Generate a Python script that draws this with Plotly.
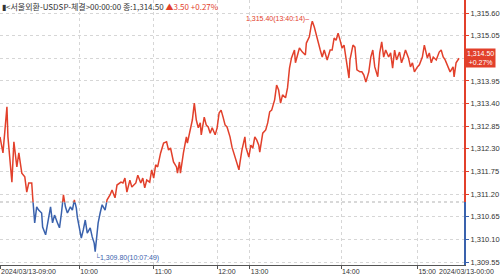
import plotly.graph_objects as go

# tick index (position along the tick-count axis) and traded price
tick_index = [0, 2, 3, 5, 7, 8, 10, 12, 14, 17, 19, 22, 25, 27, 29, 32, 33, 34, 35, 37, 39, 42, 43, 46, 48, 51,
              53, 55, 58, 60, 62, 64, 66, 68, 71, 73, 75, 77, 78, 82, 84, 86, 88, 91, 93, 95, 96, 97, 99, 101,
              103, 106, 108, 111, 113, 116, 118, 122, 124, 126, 128, 131, 133, 137, 139, 142, 144, 146, 148, 151,
              153, 155, 157, 159, 162, 165, 168, 170, 172, 175, 178, 179, 181, 182, 185, 188, 189, 192, 194, 196,
              198, 200, 202, 203, 206, 208, 210, 212, 214, 217, 219, 221, 223, 225, 227, 229, 232, 234, 237, 239,
              241, 242, 244, 247, 248, 251, 253, 255, 257, 259, 261, 262, 265, 268, 270, 272, 274, 277, 279, 281,
              283, 285, 288, 290, 292, 294, 297, 298, 301, 302, 305, 308, 309, 312, 314, 315, 317, 320, 323, 325,
              327, 330, 333, 335, 337, 339, 341, 343, 345, 347, 349, 352, 353, 356, 358, 360, 363, 365, 367, 369,
              372, 374, 376, 378, 381, 383, 385, 387, 389, 392, 394, 396, 398, 400, 403, 405, 407, 409, 412, 414,
              416, 418, 421, 423, 426, 428, 431, 433, 435, 437, 440, 443, 445, 447, 449, 452, 454, 457, 458, 460,
              463]
price = [1312.59, 1312.34, 1312.20, 1312.76, 1313.32, 1312.59, 1312.10, 1311.49, 1312.47, 1311.86, 1312.20,
         1311.71, 1311.62, 1311.25, 1311.47, 1311.47, 1311.11, 1310.81, 1310.50, 1310.89, 1310.81, 1310.74,
         1310.40, 1310.21, 1310.50, 1310.89, 1310.50, 1310.69, 1310.50, 1310.38, 1310.74, 1311.18, 1310.89,
         1310.74, 1310.89, 1310.81, 1311.06, 1310.86, 1310.64, 1310.13, 1310.33, 1310.57, 1310.25, 1310.38,
         1310.16, 1310.01, 1309.80, 1310.08, 1310.50, 1310.74, 1310.94, 1310.81, 1311.06, 1311.18, 1311.30,
         1311.11, 1311.42, 1311.49, 1311.47, 1311.59, 1311.25, 1311.54, 1311.37, 1311.47, 1311.66, 1311.47,
         1311.59, 1311.35, 1311.54, 1311.49, 1311.79, 1311.59, 1311.91, 1311.86, 1312.20, 1312.44, 1312.47,
         1312.27, 1312.32, 1311.98, 1311.86, 1311.71, 1311.98, 1311.71, 1312.20, 1312.59, 1312.44, 1312.76,
         1313.00, 1313.41, 1313.00, 1312.81, 1312.93, 1312.64, 1313.07, 1312.88, 1312.83, 1312.68, 1312.81,
         1312.64, 1312.81, 1313.17, 1313.24, 1313.07, 1312.88, 1312.83, 1312.59, 1312.34, 1312.10, 1311.96,
         1311.79, 1311.96, 1312.27, 1312.59, 1312.34, 1312.10, 1312.39, 1312.32, 1312.59, 1312.51, 1312.39,
         1312.22, 1312.68, 1312.76, 1312.93, 1313.20, 1313.24, 1313.49, 1313.85, 1313.73, 1313.41, 1313.61,
         1313.54, 1313.78, 1314.26, 1314.51, 1314.70, 1314.39, 1314.63, 1314.75, 1314.65, 1314.58, 1314.87,
         1315.02, 1315.31, 1315.40, 1315.26, 1314.94, 1314.70, 1314.53, 1314.70, 1314.46, 1314.70, 1314.70,
         1314.99, 1314.94, 1315.11, 1314.94, 1314.75, 1314.82, 1314.51, 1314.02, 1314.46, 1314.82, 1314.77,
         1314.22, 1314.17, 1314.17, 1314.09, 1313.92, 1314.17, 1314.53, 1314.70, 1314.29, 1314.05, 1314.63,
         1314.90, 1314.53, 1314.70, 1314.53, 1314.63, 1314.26, 1314.70, 1314.46, 1314.65, 1314.39, 1314.53,
         1314.70, 1314.51, 1314.29, 1314.39, 1314.17, 1314.29, 1314.34, 1314.53, 1314.82, 1314.51, 1314.63,
         1314.39, 1314.53, 1314.46, 1314.65, 1314.70, 1314.53, 1314.46, 1314.29, 1314.17, 1314.29, 1314.05,
         1314.39, 1314.50]

prev_close = 1311.00
last_price = 1314.50
change = 3.50
change_pct = 0.27
max_price, max_time, max_idx = 1315.40, "13:40:14", 315
min_price, min_time, min_idx = 1309.80, "10:07:49", 96

y_tickvals = [1309.55, 1310.10, 1310.65, 1311.20, 1311.75, 1312.30, 1312.85, 1313.40, 1313.95, 1314.50, 1315.05, 1315.60]
x_tickvals = [0, 80, 155, 219, 252, 344, 421]
x_ticktext = ["2024/03/13-09:00", "10:00", "11:00", "12:00", "13:00", "14:00", "15:00"]
x_end_label = "2024/03/13-00:00"

RED = "#e2402b"
BLUE = "#3a62ad"
GRID = "#d6d6d6"
TXT = "#333333"
FONT = "Liberation Sans, Arial, sans-serif"

y_lo, y_hi = 1309.477, 1315.916
split = (prev_close - y_lo) / (y_hi - y_lo)

# the last-price box takes the place of its own tick label
y_ticktext = ["" if abs(v - last_price) < 1e-9 else f"{v:,.2f}" for v in y_tickvals]

fig = go.Figure()
# lower (below previous close) -> blue, upper -> red ; each clipped to its own domain
fig.add_trace(go.Scatter(x=tick_index, y=price, mode="lines", line=dict(color=BLUE, width=1.5),
                         xaxis="x", yaxis="y", hoverinfo="skip"))
fig.add_trace(go.Scatter(x=tick_index, y=price, mode="lines", line=dict(color=RED, width=1.5),
                         xaxis="x2", yaxis="y2", hoverinfo="skip"))

common_y = dict(side="right", tickvals=y_tickvals, ticktext=y_ticktext, showgrid=True, gridcolor=GRID,
                griddash="dot", gridwidth=1, zeroline=False, showline=True, linewidth=2,
                ticks="outside", ticklen=3, tickfont=dict(family=FONT, size=7.5, color=TXT))
common_x = dict(range=[0, 468], tickvals=x_tickvals, showgrid=True, gridcolor=GRID, griddash="dot",
                zeroline=False)

fig.update_layout(
    width=500, height=275, margin=dict(l=0, r=32, t=0, b=10),
    paper_bgcolor="white", plot_bgcolor="white", showlegend=False,
    xaxis=dict(**common_x, anchor="y", ticktext=x_ticktext, ticklabelposition="outside right",
               showline=True, linecolor="#555555", linewidth=1, ticks="outside", ticklen=3, tickcolor="#555555",
               tickfont=dict(family=FONT, size=7, color=TXT)),
    xaxis2=dict(**common_x, anchor="y2", matches="x", showticklabels=False),
    yaxis=dict(**common_y, domain=[0, split], range=[y_lo, prev_close], linecolor=BLUE, tickcolor=BLUE),
    yaxis2=dict(**common_y, domain=[split, 1], range=[prev_close, y_hi], linecolor=RED, tickcolor=RED),
)

# previous close dotted line
fig.add_shape(type="line", xref="paper", yref="y2", x0=0, x1=1, y0=prev_close, y1=prev_close,
              line=dict(color="#666666", width=1.2, dash="dot"), layer="above")

# header
fig.add_annotation(xref="paper", yref="paper", x=0, y=1, xanchor="left", yanchor="top", showarrow=False,
                   xshift=0, yshift=1,
                   text=f"▮&lt;서울외환-USDSP-체결&gt;00:00:00 종:{last_price:,.2f} "
                        f"<span style='color:{RED}'>▲{change:.2f} +{change_pct:.2f}%</span>",
                   font=dict(family="Noto Sans CJK KR, sans-serif", size=8, color=TXT))

# max / min labels
fig.add_annotation(xref="x2", yref="y2", x=max_idx, y=max_price, text=f"{max_price:,.2f}({max_time})–",
                   showarrow=False, xanchor="right", yanchor="middle", xshift=-1, yshift=2,
                   font=dict(family=FONT, size=7, color=RED))
fig.add_annotation(xref="x", yref="y", x=min_idx, y=min_price, text=f"└{min_price:,.2f}({min_time})",
                   showarrow=False, xanchor="left", yanchor="top", xshift=-2, yshift=1,
                   font=dict(family=FONT, size=7, color=BLUE))

# last price box
fig.add_annotation(xref="paper", yref="y2", x=1, y=last_price, xanchor="left", xshift=1,
                   text=f"{last_price:,.2f}<br>+{change_pct:.2f}%", showarrow=False,
                   bgcolor=RED, borderpad=1, font=dict(family=FONT, size=7, color="white"), align="center")

# right-end date label
fig.add_annotation(xref="paper", yref="paper", x=500 / 468, y=0, xanchor="right", yanchor="top",
                   yshift=-1, showarrow=False, text=x_end_label, font=dict(family=FONT, size=7, color=TXT))

fig.write_html("out.html")
